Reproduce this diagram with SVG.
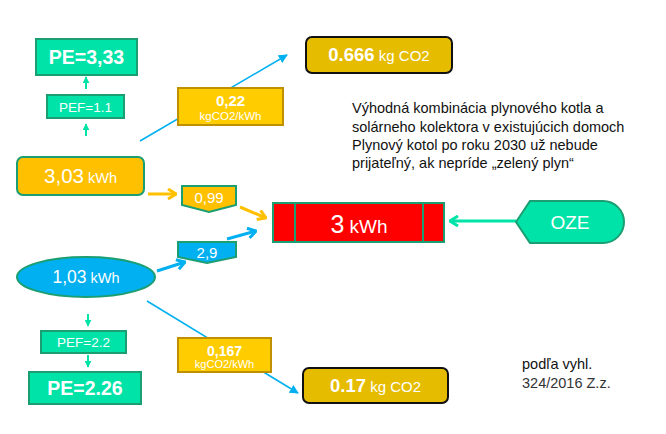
<svg xmlns="http://www.w3.org/2000/svg" width="666" height="434" viewBox="0 0 666 434">
<defs>
<style>
text{font-family:"Liberation Sans",Arial,sans-serif;fill:#fff}
.g{fill:#00E3A8;stroke:#1A9E72;stroke-width:2}
.o{fill:#FFC000;stroke:#1A9E72;stroke-width:2}
.b{fill:#00B0F0;stroke:#1A9E72;stroke-width:2}
.gold{fill:#FFCC00;stroke:#BF9000;stroke-width:2}
.dk{fill:#E6BC00;stroke:#111;stroke-width:2}
.red{fill:#FF0000;stroke:#1A9E72;stroke-width:2}
.t{fill:#111;font-size:14.5px}
.thin{stroke:#00B0F0;stroke-width:1.6;fill:none}
.thk{stroke-width:3;fill:none}
.sg{stroke:#00E3A8;stroke-width:2;fill:none}
</style>
<marker id="ab" viewBox="0 0 10 10" refX="9" refY="5" markerWidth="9" markerHeight="9" markerUnits="userSpaceOnUse" orient="auto"><path d="M0,0 L10,5 L0,10 Z" fill="#00B0F0"/></marker>
<marker id="ag" viewBox="0 0 10 10" refX="9" refY="5" markerWidth="7" markerHeight="7" markerUnits="userSpaceOnUse" orient="auto"><path d="M0,0 L10,5 L0,10 Z" fill="#00E3A8"/></marker>
<marker id="co" viewBox="0 0 10 12" refX="9" refY="6" markerWidth="10" markerHeight="12" markerUnits="userSpaceOnUse" orient="auto"><path d="M1,1 L9,6 L1,11" fill="none" stroke="#FFC000" stroke-width="3"/></marker>
<marker id="cb" viewBox="0 0 10 12" refX="9" refY="6" markerWidth="10" markerHeight="12" markerUnits="userSpaceOnUse" orient="auto"><path d="M1,1 L9,6 L1,11" fill="none" stroke="#00B0F0" stroke-width="3"/></marker>
<marker id="cg" viewBox="0 0 10 12" refX="9" refY="6" markerWidth="10" markerHeight="12" markerUnits="userSpaceOnUse" orient="auto"><path d="M1,1 L9,6 L1,11" fill="none" stroke="#00E3A8" stroke-width="3"/></marker>
</defs>
<rect width="666" height="434" fill="#fff"/>

<g id="connectors">
<line class="sg" x1="86" y1="89" x2="86" y2="77" marker-end="url(#ag)"/>
<line class="sg" x1="86" y1="136" x2="86" y2="124" marker-end="url(#ag)"/>
<line class="sg" x1="88" y1="314" x2="88" y2="326" marker-end="url(#ag)"/>
<line class="sg" x1="88" y1="355" x2="88" y2="367" marker-end="url(#ag)"/>
<line class="thin" x1="140" y1="141" x2="287" y2="55" marker-end="url(#ab)"/>
<line class="thin" x1="147" y1="301" x2="298" y2="393" marker-end="url(#ab)"/>
<line class="thk" stroke="#FFC000" x1="148" y1="194" x2="176" y2="194" marker-end="url(#co)"/>
<line class="thk" stroke="#FFC000" x1="240" y1="207" x2="266" y2="218" marker-end="url(#co)"/>
<line class="thk" stroke="#00B0F0" x1="157" y1="271" x2="185" y2="262" marker-end="url(#cb)"/>
<line class="thk" stroke="#00B0F0" x1="227" y1="239" x2="256" y2="231" marker-end="url(#cb)"/>
<line class="thk" stroke="#00E3A8" x1="516" y1="221" x2="450" y2="221" marker-end="url(#cg)"/>
</g>

<g id="pe333"><rect class="g" x="36" y="39" width="101" height="36"/><text x="86.5" y="64" font-size="19.5" font-weight="bold" text-anchor="middle">PE=3,33</text></g>
<g id="pef11"><rect class="g" x="47" y="95" width="77" height="23"/><text x="85.5" y="112" font-size="13.5" text-anchor="middle">PEF=1.1</text></g>
<g id="gas"><rect class="o" x="17" y="157" width="127" height="38" rx="6"/><text x="80.5" y="183" text-anchor="middle"><tspan font-size="20.5">3,03</tspan><tspan font-size="14.5"> kWh</tspan></text></g>
<g id="f099"><path class="o" d="M182,186 H236 V205 L209,212 L182,205 Z"/><text x="209" y="203" font-size="15" text-anchor="middle">0,99</text></g>
<g id="f29"><path class="b" d="M178,242 H236 V257 L207,263 L178,257 Z"/><text x="207" y="258" font-size="15" text-anchor="middle">2,9</text></g>
<g id="elec"><ellipse class="b" cx="86" cy="277" rx="69" ry="20"/><text x="86" y="283" text-anchor="middle"><tspan font-size="17.5">1,03</tspan><tspan font-size="14.5"> kWh</tspan></text></g>
<g id="pef22"><rect class="g" x="41" y="331" width="85" height="22"/><text x="83.5" y="347" font-size="13.5" text-anchor="middle">PEF=2.2</text></g>
<g id="pe226"><rect class="g" x="29" y="372" width="112" height="32"/><text x="85" y="395" font-size="19.5" font-weight="bold" text-anchor="middle">PE=2.26</text></g>
<g id="c022"><rect class="gold" x="178" y="88" width="105" height="37"/><text x="230.5" y="106" font-size="15" font-weight="bold" text-anchor="middle">0,22</text><text x="230.5" y="119.5" font-size="11.5" text-anchor="middle">kgCO2/kWh</text></g>
<g id="c0167"><rect class="gold" x="178" y="338" width="93" height="34"/><text x="224.5" y="355.5" font-size="14" font-weight="bold" text-anchor="middle">0,167</text><text x="224.5" y="368" font-size="11" text-anchor="middle">kgCO2/kWh</text></g>
<g id="r0666"><rect class="dk" x="306" y="37" width="146" height="36" rx="6"/><text x="379" y="61" text-anchor="middle"><tspan font-size="18.5" font-weight="bold">0.666</tspan><tspan font-size="15"> kg CO2</tspan></text></g>
<g id="r017"><rect class="dk" x="303" y="368" width="145" height="35" rx="6"/><text x="375.5" y="392" text-anchor="middle"><tspan font-size="18.5" font-weight="bold">0.17</tspan><tspan font-size="15"> kg CO2</tspan></text></g>
<g id="heat"><rect class="red" x="273" y="203" width="171" height="39"/><line x1="295" y1="203" x2="295" y2="242" stroke="#1A9E72" stroke-width="2"/><line x1="423" y1="203" x2="423" y2="242" stroke="#1A9E72" stroke-width="2"/><text x="359" y="233" text-anchor="middle"><tspan font-size="25">3</tspan><tspan font-size="19"> kWh</tspan></text></g>
<g id="oze"><path class="g" d="M516,222 L530,201 H603 A21,21 0 0 1 603,243 H530 Z"/><text x="570" y="229" font-size="19" text-anchor="middle">OZE</text></g>
<g id="note"><text class="t" x="352" y="113">Výhodná kombinácia plynového kotla a</text><text class="t" x="352" y="132">solárneho kolektora v existujúcich domoch</text><text class="t" x="352" y="150">Plynový kotol po roku 2030 už nebude</text><text class="t" x="352" y="168">prijateľný, ak nepríde „zelený plyn“</text></g>
<g id="src"><text class="t" x="522" y="369">podľa vyhl.</text><text class="t" x="522" y="388" style="fill:#333">324/2016 Z.z.</text></g>
</svg>
